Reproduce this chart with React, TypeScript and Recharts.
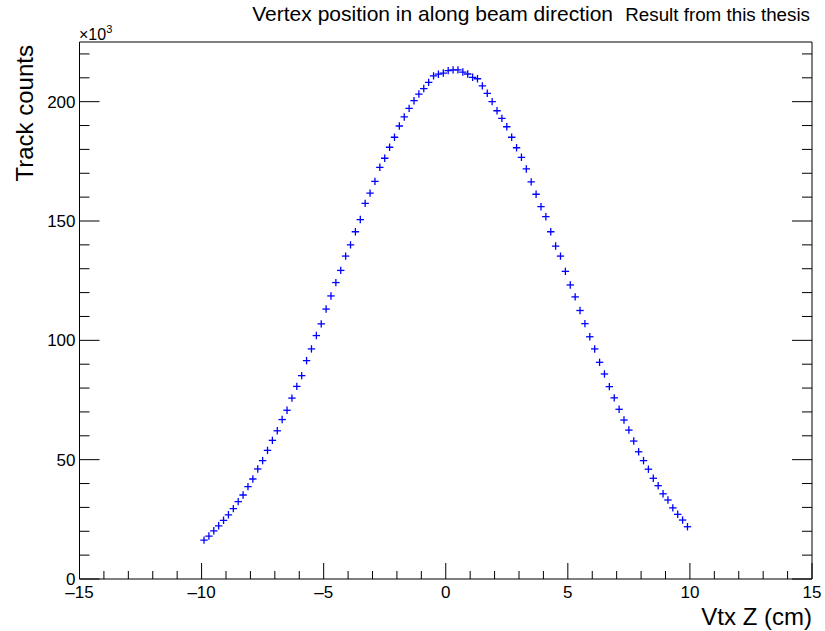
import React from "react";
import { ScatterChart, Scatter, XAxis, YAxis } from "recharts";

// bin centres of the Vtx Z histogram (cm)
const binCenters = [
  -9.9, -9.7, -9.5, -9.3, -9.1, -8.9, -8.7, -8.5, -8.3, -8.1,
  -7.9, -7.7, -7.5, -7.3, -7.1, -6.9, -6.7, -6.5, -6.3, -6.1,
  -5.9, -5.7, -5.5, -5.3, -5.1, -4.9, -4.7, -4.5, -4.3, -4.1,
  -3.9, -3.7, -3.5, -3.3, -3.1, -2.9, -2.7, -2.5, -2.3, -2.1,
  -1.9, -1.7, -1.5, -1.3, -1.1, -0.9, -0.7, -0.5, -0.3, -0.1,
  0.1, 0.3, 0.5, 0.7, 0.9, 1.1, 1.3, 1.5, 1.7, 1.9,
  2.1, 2.3, 2.5, 2.7, 2.9, 3.1, 3.3, 3.5, 3.7, 3.9,
  4.1, 4.3, 4.5, 4.7, 4.9, 5.1, 5.3, 5.5, 5.7, 5.9,
  6.1, 6.3, 6.5, 6.7, 6.9, 7.1, 7.3, 7.5, 7.7, 7.9,
  8.1, 8.3, 8.5, 8.7, 8.9, 9.1, 9.3, 9.5, 9.7, 9.9,
];

// track counts per bin, in units of 10^3
const trackCounts = [
  16.3, 18.0, 20.2, 22.3, 24.6, 26.9, 29.5, 32.4, 35.2, 38.7,
  41.9, 46.1, 49.6, 53.9, 58.1, 62.1, 66.8, 70.7, 75.8, 80.7,
  85.2, 91.5, 96.4, 102.0, 106.9, 113.1, 118.6, 124.2, 129.3, 135.3,
  140.0, 145.5, 150.6, 157.4, 161.7, 166.6, 172.5, 176.3, 180.9, 185.1,
  189.8, 193.6, 197.2, 200.4, 203.2, 205.5, 208.1, 210.8, 211.5, 212.0,
  213.0, 213.3, 213.3, 212.4, 211.6, 210.2, 209.6, 206.6, 203.5, 200.0,
  196.2, 193.0, 189.5, 185.1, 180.7, 176.7, 171.8, 166.4, 161.2, 156.0,
  151.8, 145.5, 139.5, 135.3, 128.9, 123.2, 118.2, 112.5, 107.0, 101.5,
  96.4, 90.8, 85.9, 80.6, 75.9, 71.1, 66.6, 62.4, 57.8, 53.3,
  49.6, 46.0, 42.2, 39.1, 35.7, 33.1, 29.8, 27.1, 24.7, 21.9,
];

const xTicks = [
  -15, -14, -13, -12, -11, -10, -9, -8, -7, -6, -5, -4, -3, -2, -1, 0,
  1, 2, 3, 4, 5, 6, 7, 8, 9, 10, 11, 12, 13, 14, 15,
];
const xMajor = [-15, -10, -5, 0, 5, 10, 15];
const yTicks = [
  0, 10, 20, 30, 40, 50, 60, 70, 80, 90, 100, 110, 120, 130, 140, 150,
  160, 170, 180, 190, 200, 210, 220,
];
const yMajor = [0, 50, 100, 150, 200];

const data = binCenters.map((z, i) => ({ z, n: trackCounts[i] }));

const FONT = "'Liberation Sans', Arial, Helvetica, sans-serif";

const isMajor = (list: number[], v: number) =>
  list.some((m) => Math.abs(m - v) < 1e-6);

const fmt = (v: number) => (v < 0 ? "\u2013" + Math.abs(v) : String(v));

const BottomTick = (props: any) => {
  const { x, y, payload } = props;
  const major = isMajor(xMajor, payload.value);
  return (
    <g>
      <line x1={x} x2={x} y1={y} y2={y - (major ? 16 : 8)} stroke="#000" />
      {major && (
        <text x={x} y={y + 19} textAnchor="middle" fontSize={17} fontFamily={FONT} fill="#000">
          {fmt(payload.value)}
        </text>
      )}
    </g>
  );
};

const TopTick = (props: any) => {
  const { x, y, payload } = props;
  const major = isMajor(xMajor, payload.value);
  return <line x1={x} x2={x} y1={y} y2={y + (major ? 16 : 8)} stroke="#000" />;
};

const LeftTick = (props: any) => {
  const { x, y, payload } = props;
  const major = isMajor(yMajor, payload.value);
  return (
    <g>
      <line x1={x} x2={x + (major ? 20 : 10)} y1={y} y2={y} stroke="#000" />
      {major && (
        <text x={x - 4} y={y + 6} textAnchor="end" fontSize={17} fontFamily={FONT} fill="#000">
          {payload.value}
        </text>
      )}
    </g>
  );
};

const RightTick = (props: any) => {
  const { x, y, payload } = props;
  const major = isMajor(yMajor, payload.value);
  return <line x1={x} x2={x - (major ? 20 : 10)} y1={y} y2={y} stroke="#000" />;
};

const Cross = (props: any) => {
  const { cx, cy } = props;
  return (
    <g>
      <line x1={cx - 3.7} x2={cx + 3.7} y1={cy} y2={cy} stroke="#0000ff" strokeWidth={1.3} />
      <line x1={cx} x2={cx} y1={cy - 3.7} y2={cy + 3.7} stroke="#0000ff" strokeWidth={1.3} />
    </g>
  );
};

const App = () => {
  return (
    <div style={{ position: "absolute", left: 0, top: 0, background: "#fff" }}>
      <ScatterChart
        width={825}
        height={631}
        margin={{ top: 41, right: 12, bottom: 51, left: 78.5 }}
      >
        <XAxis
          dataKey="z"
          type="number"
          domain={[-15, 15]}
          ticks={xTicks}
          interval={0}
          height={1}
          tickSize={0}
          tickMargin={0}
          tickLine={false}
          tick={<BottomTick />}
          axisLine={{ stroke: "#000" }}
          allowDataOverflow
        />
        <XAxis
          xAxisId="top"
          orientation="top"
          type="number"
          domain={[-15, 15]}
          ticks={xTicks}
          interval={0}
          height={1}
          tickSize={0}
          tickMargin={0}
          tickLine={false}
          tick={<TopTick />}
          axisLine={{ stroke: "#000" }}
          allowDataOverflow
        />
        <YAxis
          dataKey="n"
          type="number"
          domain={[0, 225]}
          ticks={yTicks}
          interval={0}
          width={1}
          tickSize={0}
          tickMargin={0}
          tickLine={false}
          tick={<LeftTick />}
          axisLine={{ stroke: "#000" }}
          allowDataOverflow
        />
        <YAxis
          yAxisId="right"
          orientation="right"
          type="number"
          domain={[0, 225]}
          ticks={yTicks}
          interval={0}
          width={1}
          tickSize={0}
          tickMargin={0}
          tickLine={false}
          tick={<RightTick />}
          axisLine={{ stroke: "#000" }}
          allowDataOverflow
        />
        <Scatter data={data} shape={<Cross />} isAnimationActive={false} />

        <text x={613} y={21} textAnchor="end" fontSize={21} fontFamily={FONT} fill="#000">
          Vertex position in along beam direction
        </text>
        <text x={810} y={21} textAnchor="end" fontSize={18.8} fontFamily={FONT} fill="#000">
          Result from this thesis
        </text>
        <text x={79} y={40} fontSize={16} fontFamily={FONT} fill="#000">
          ×10
          <tspan fontSize={11} dy={-7}>3</tspan>
        </text>
        <text
          x={33}
          y={45}
          transform="rotate(-90 33 45)"
          textAnchor="end"
          fontSize={24}
          fontFamily={FONT}
          fill="#000"
        >
          Track counts
        </text>
        <text x={812} y={625} textAnchor="end" fontSize={24} fontFamily={FONT} fill="#000">
          Vtx Z (cm)
        </text>
      </ScatterChart>
    </div>
  );
};

export default App;
